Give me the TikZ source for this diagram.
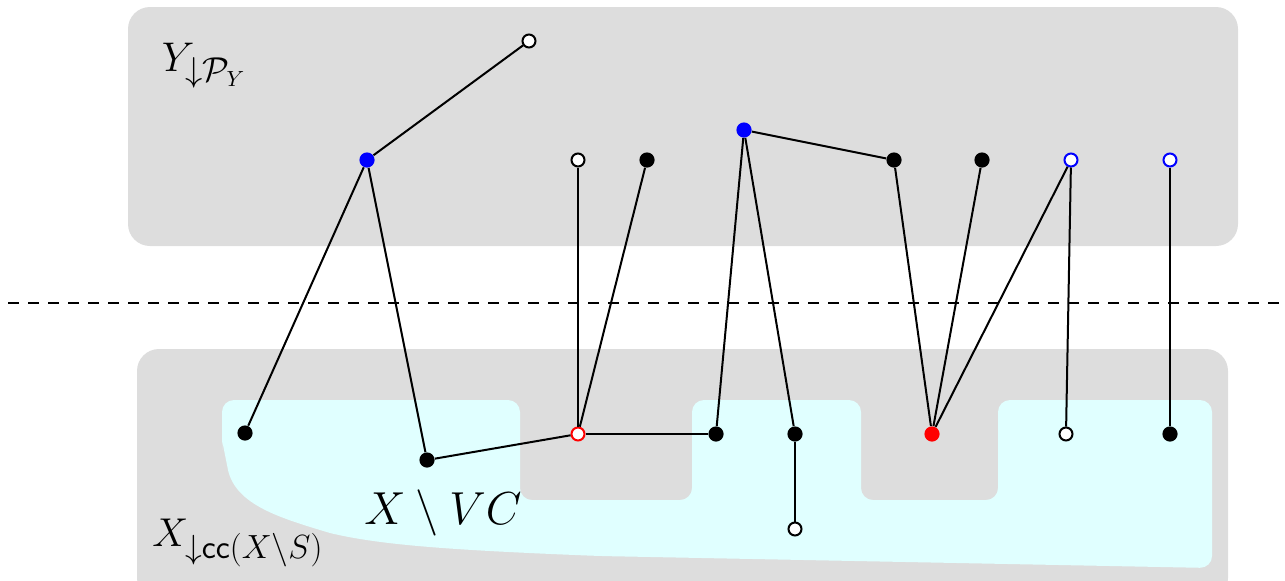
\documentclass[tikz,border=0pt]{standalone}
\usepackage{graphicx}
\usepackage{amsmath,amssymb}
\definecolor{lightcy}{RGB}{224,255,255}
\definecolor{regiongray}{RGB}{221,221,221}
\begin{document}
\begin{tikzpicture}[x=0.5pt,y=-0.5pt,
  region/.style={fill=regiongray,draw=none,rounded corners=11pt},
  inner/.style={fill=lightcy,draw=none},
  edge/.style={line width=1pt,black},
  bdot/.style={circle,fill=black,inner sep=0pt,minimum size=7.6pt},
  bluedot/.style={circle,fill=blue,inner sep=0pt,minimum size=7.6pt},
  reddot/.style={circle,fill=red,inner sep=0pt,minimum size=7.6pt},
  odot/.style={circle,fill=white,draw=black,line width=1pt,inner sep=0pt,minimum size=6.5pt},
  blueopen/.style={odot,draw=blue},
  redopen/.style={odot,draw=red},
  lab/.style={inner sep=0pt,font=\fontsize{22.7}{27}\selectfont}
]
\useasboundingbox (0,0) rectangle (1285,580);
% regions
\fill[region] (128,7) rectangle (1238,246);
\fill[region] (137,349) rectangle (1228,600);
\fill[inner,rounded corners=6pt]
  (222,450) -- (222,400) -- (520,400) -- (520,500) -- (692,500) -- (692,400)
  -- (861,400) -- (861,500) -- (998,500) -- (998,400) -- (1212,400) -- (1212,568)
  -- (600,556) [sharp corners] .. controls (450,550) and (380,545) .. (330,533)
  .. controls (280,518) and (236,505) .. (228,470) -- (222,440) -- cycle;
% dashed separator
\coordinate (dl) at (8,303);
\coordinate (dr) at (1285,303);
\draw[line width=1pt,dash pattern=on 5.5pt off 4.5pt] (dl) -- (dr);
% labels
\node[lab] (ly) at (204,66) {$Y_{\downarrow\mathcal{P}_Y}$};
\node[lab,font=\fontsize{25}{30}\selectfont] (lvc) at (443,513) {\scalebox{0.93}{$X\setminus VC$}};
\node[lab,anchor=west] (lx) at (152,543) {\scalebox{0.97}{$X_{\downarrow\mathsf{cc}(X\setminus S)}$}};
% top nodes
\node[odot] (t0) at (529,41) {};
\node[bluedot] (t1) at (367,160) {};
\node[odot] (t2) at (578,160) {};
\node[bdot] (t3) at (647,160) {};
\node[bluedot] (t4) at (744,130) {};
\node[bdot] (t5) at (894,160) {};
\node[bdot] (t6) at (982,160) {};
\node[blueopen] (t7) at (1071,160) {};
\node[blueopen] (t8) at (1170,160) {};
% bottom nodes
\node[bdot] (b1) at (245,433) {};
\node[bdot] (b2) at (427,460) {};
\node[redopen] (b3) at (578,434) {};
\node[bdot] (b4) at (716,434) {};
\node[bdot] (b5) at (795,434) {};
\node[odot] (b6) at (795,529) {};
\node[reddot] (b7) at (932,434) {};
\node[odot] (b8) at (1066,434) {};
\node[bdot] (b9) at (1170,434) {};
% edges
\draw[edge] (t1) -- (t0);
\draw[edge] (t1) -- (b1);
\draw[edge] (t1) -- (b2);
\draw[edge] (b2) -- (b3);
\draw[edge] (b3) -- (b4);
\draw[edge] (b3) -- (t2);
\draw[edge] (b3) -- (t3);
\draw[edge] (b4) -- (t4);
\draw[edge] (t4) -- (b5);
\draw[edge] (t4) -- (t5);
\draw[edge] (b5) -- (b6);
\draw[edge] (t5) -- (b7);
\draw[edge] (t6) -- (b7);
\draw[edge] (t7) -- (b7);
\draw[edge] (t7) -- (b8);
\draw[edge] (t8) -- (b9);
\end{tikzpicture}
\end{document}
